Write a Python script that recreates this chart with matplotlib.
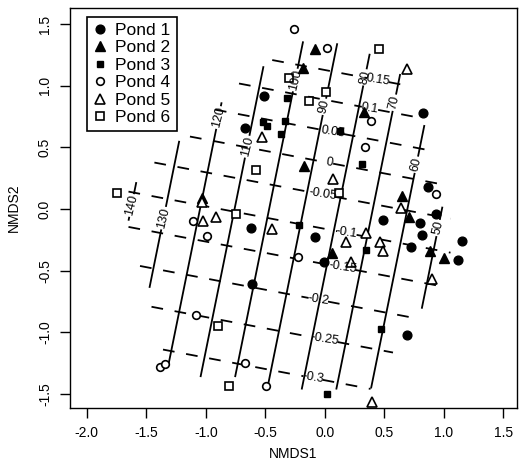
import numpy as np
import matplotlib
matplotlib.use('Agg')
import matplotlib.pyplot as plt
from matplotlib.path import Path

plt.rcParams['font.family'] = ['Liberation Sans', 'DejaVu Sans']

# NMDS site scores, one pair of lists per pond
pond1_x = [-0.511, -0.672, 0.825, 0.867, 0.935, 0.489, 0.800, 0.817, 0.724, 1.153, 1.119, -0.620, -0.082, -0.007, -0.612, 0.695]
pond1_y = [0.916, 0.657, 0.779, 0.178, -0.041, -0.089, -0.114, -0.211, -0.308, -0.260, -0.414, -0.154, -0.227, -0.430, -0.608, -1.022]
pond2_x = [-0.082, -0.183, 0.329, -0.175, 0.650, 0.708, 0.061, 0.884, 1.002, -1.032]
pond2_y = [1.298, 1.144, 0.787, 0.349, 0.105, -0.065, -0.357, -0.341, -0.397, 0.089]
pond3_x = [-0.318, -0.519, -0.486, -0.334, -0.368, 0.128, 0.313, -0.217, 0.346, 0.472, 0.018]
pond3_y = [0.900, 0.706, 0.673, 0.714, 0.608, 0.633, 0.365, -0.130, -0.333, -0.973, -1.500]
pond4_x = [-0.259, 0.018, 0.388, 0.338, 0.935, -1.108, -0.990, -1.082, -1.385, -1.343, -0.225, -0.671, -0.494]
pond4_y = [1.460, 1.306, 0.714, 0.503, 0.122, -0.097, -0.219, -0.859, -1.281, -1.257, -0.389, -1.249, -1.435]
pond5_x = [-0.528, 0.069, 0.690, 0.640, -1.032, -1.024, -0.914, -0.444, 0.178, 0.220, 0.346, 0.464, 0.489, 0.901, 0.397]
pond5_y = [0.584, 0.243, 1.135, 0.008, 0.057, -0.097, -0.065, -0.162, -0.268, -0.430, -0.195, -0.268, -0.341, -0.568, -1.565]
pond6_x = [0.455, -0.301, 0.010, -0.133, -0.578, 0.119, -1.746, -0.746, -0.897, -0.805]
pond6_y = [1.298, 1.062, 0.949, 0.876, 0.316, 0.130, 0.130, -0.041, -0.949, -1.436]

pond_names = ['Pond 1', 'Pond 2', 'Pond 3', 'Pond 4', 'Pond 5', 'Pond 6']

# fitted surfaces, estimated from the contour spacing
solid_coef = [83.9, -34.43, 7.23]          # a + b*x + c*y
dashed_coef = [-0.0710, 0.1821, 0.0124]    # a + b*u + c*u^2, u = y + 0.183*x
dashed_tilt = 0.183
solid_levels = [50, 60, 70, 80, 90, 100, 110, 120, 130, 140]
dashed_levels = [-0.3, -0.25, -0.2, -0.15, -0.1, -0.05, 0, 0.05, 0.1, 0.15]

# where the contour labels sit
solid_label_pos = [(-1.636, 0.032), (-1.360, -0.073), (-0.881, 0.738), (-0.645, 0.503),
                   (-0.250, 1.046), (0.002, 0.827), (0.355, 1.062), (0.590, 0.860),
                   (0.775, 0.357), (0.951, -0.154)]
dashed_label_pos = [(0.447, 1.046), (0.380, 0.819), (0.069, 0.624), (0.035, 0.373),
                    (-0.015, 0.130), (0.187, -0.187), (0.153, -0.470), (-0.057, -0.754),
                    (0.002, -1.079), (-0.099, -1.371)]


def hull(pts):
    # monotone chain convex hull
    pts = sorted(set(pts))
    def cross(o, a, b):
        return (a[0]-o[0])*(b[1]-o[1]) - (a[1]-o[1])*(b[0]-o[0])
    lower, upper = [], []
    for p in pts:
        while len(lower) >= 2 and cross(lower[-2], lower[-1], p) <= 0:
            lower.pop()
        lower.append(p)
    for p in reversed(pts):
        while len(upper) >= 2 and cross(upper[-2], upper[-1], p) <= 0:
            upper.pop()
        upper.append(p)
    return lower[:-1] + upper[:-1]


all_x = pond1_x + pond2_x + pond3_x + pond4_x + pond5_x + pond6_x
all_y = pond1_y + pond2_y + pond3_y + pond4_y + pond5_y + pond6_y

# 31 x 31 grid over the scores, masked outside the hull (like ordisurf)
gx = np.linspace(min(all_x), max(all_x), 31)
gy = np.linspace(min(all_y), max(all_y), 31)
X, Y = np.meshgrid(gx, gy)
poly = Path(hull(list(zip(all_x, all_y))))
inside = poly.contains_points(np.column_stack([X.ravel(), Y.ravel()]), radius=1e-9).reshape(X.shape)

Z1 = solid_coef[0] + solid_coef[1]*X + solid_coef[2]*Y
U = Y + dashed_tilt*X
Z2 = dashed_coef[0] + dashed_coef[1]*U + dashed_coef[2]*U**2
Z1 = np.ma.masked_where(~inside, Z1)
Z2 = np.ma.masked_where(~inside, Z2)

fig = plt.figure(figsize=(5.2, 4.66), dpi=100)
ax = fig.add_axes([0.1346, 0.1245, 0.8596, 0.8584])

cs1 = ax.contour(X, Y, Z1, levels=solid_levels, colors='black', linewidths=1.3, linestyles='solid')
cs2 = ax.contour(X, Y, Z2, levels=dashed_levels, colors='black', linewidths=1.3)
cs2.set_linestyle((0, (6.5, 6.5)))
ax.clabel(cs1, solid_levels, inline=True, fontsize=9, fmt='%g', manual=solid_label_pos, inline_spacing=2)
ax.clabel(cs2, dashed_levels, inline=True, fontsize=9, fmt='%g', manual=dashed_label_pos, inline_spacing=2)

ax.plot(pond1_x, pond1_y, 'o', color='black', ms=6.3, ls='none', label=pond_names[0])
ax.plot(pond2_x, pond2_y, '^', color='black', ms=6.5, ls='none', label=pond_names[1])
ax.plot(pond3_x, pond3_y, 's', color='black', ms=5, ls='none', label=pond_names[2])
ax.plot(pond4_x, pond4_y, 'o', mfc='white', mec='black', mew=1.2, ms=5.5, ls='none', label=pond_names[3])
ax.plot(pond5_x, pond5_y, '^', mfc='white', mec='black', mew=1.2, ms=7, ls='none', label=pond_names[4])
ax.plot(pond6_x, pond6_y, 's', mfc='white', mec='black', mew=1.2, ms=5.5, ls='none', label=pond_names[5])

ax.set_xlim(-2.141, 1.615)
ax.set_ylim(-1.614, 1.630)
ax.set_xticks([-2.0, -1.5, -1.0, -0.5, 0.0, 0.5, 1.0, 1.5])
ax.set_yticks([-1.5, -1.0, -0.5, 0.0, 0.5, 1.0, 1.5])
ax.xaxis.set_major_formatter(matplotlib.ticker.FormatStrFormatter('%.1f'))
ax.yaxis.set_major_formatter(matplotlib.ticker.FormatStrFormatter('%.1f'))
ax.tick_params(direction='out', length=7, width=1, labelsize=10, pad=6)
for lab in ax.get_yticklabels():
    lab.set_rotation(90)
    lab.set_va('center')
for sp in ax.spines.values():
    sp.set_linewidth(1)
ax.set_xlabel('NMDS1', fontsize=10, labelpad=5)
ax.set_ylabel('NMDS2', fontsize=10, labelpad=12)

leg = ax.legend(loc='upper left', bbox_to_anchor=(0.037, 0.978), fancybox=False,
                edgecolor='black', framealpha=1, fontsize=12.5, handlelength=0.8,
                handletextpad=0.5, labelspacing=0.13, borderpad=0.35, borderaxespad=0)
leg.get_frame().set_linewidth(1.2)

fig.savefig('out.png', dpi=100)
